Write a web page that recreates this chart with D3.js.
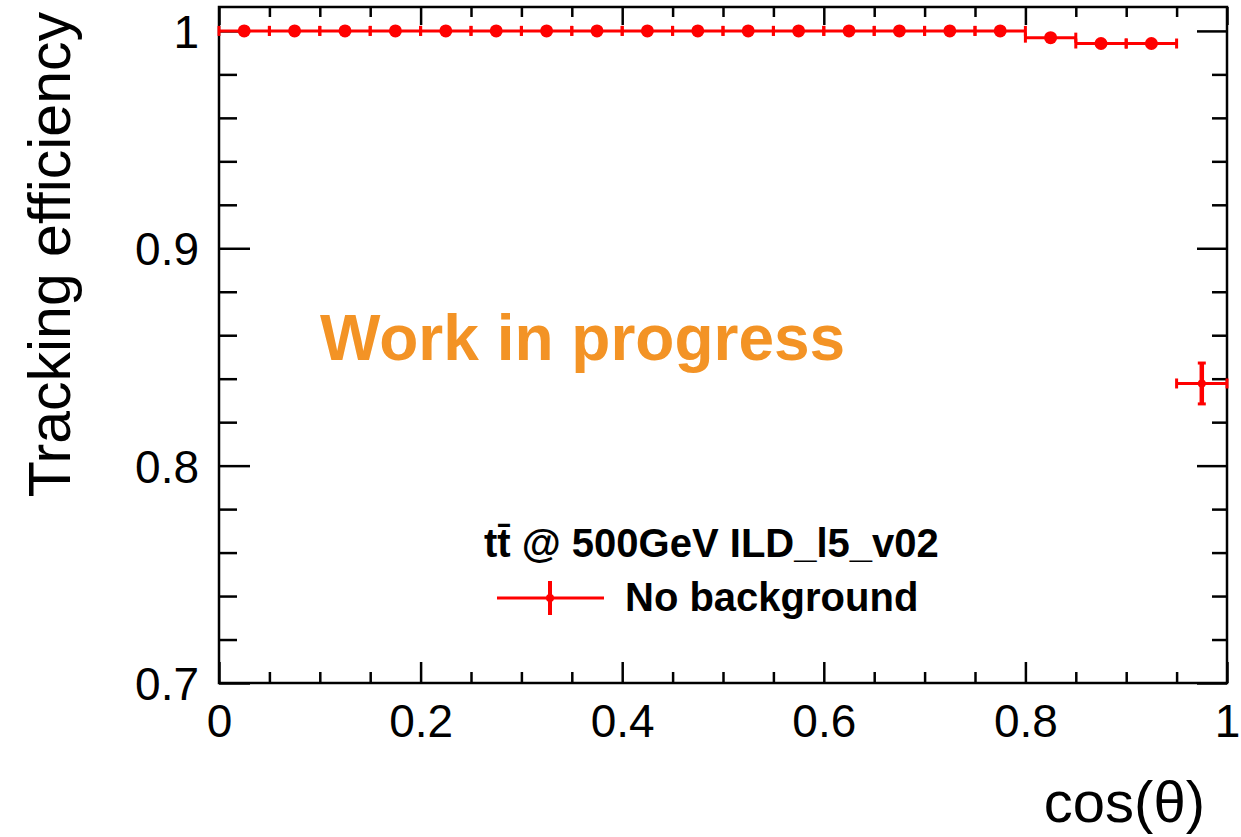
<!DOCTYPE html>
<html>
<head>
<meta charset="utf-8">
<script src="https://cdn.jsdelivr.net/npm/d3@7"></script>
<style>
  html, body { margin: 0; padding: 0; background: #fff; }
  svg { display: block; font-family: "Liberation Sans", Arial, Helvetica, sans-serif; }
  .tick text { fill: #000; }
</style>
</head>
<body>
<svg id="chart" width="1241" height="837"></svg>
<script>
// bin edges (low / high) in cos(theta)
const binLow  = [0.00, 0.05, 0.10, 0.15, 0.20, 0.25, 0.30, 0.35, 0.40, 0.45,
                 0.50, 0.55, 0.60, 0.65, 0.70, 0.75, 0.80, 0.85, 0.90, 0.95];
const binHigh = [0.05, 0.10, 0.15, 0.20, 0.25, 0.30, 0.35, 0.40, 0.45, 0.50,
                 0.55, 0.60, 0.65, 0.70, 0.75, 0.80, 0.85, 0.90, 0.95, 1.00];
// tracking efficiency, no background
const efficiency = [1.000, 1.000, 1.000, 1.000, 1.000, 1.000, 1.000, 1.000, 1.000, 1.000,
                    1.000, 1.000, 1.000, 1.000, 1.000, 1.000, 0.9969, 0.9942, 0.9942, 0.8378];
const effError   = [0.0002, 0.0002, 0.0002, 0.0002, 0.0002, 0.0002, 0.0002, 0.0002, 0.0002, 0.0002,
                    0.0002, 0.0002, 0.0002, 0.0002, 0.0002, 0.0002, 0.0004, 0.0012, 0.0012, 0.0094];

const xTicks = [0, 0.2, 0.4, 0.6, 0.8, 1];
const yTicks = [0.7, 0.8, 0.9, 1];
const xTitle = 'cos(\u03b8)';
const yTitle = 'Tracking efficiency';
const legendHeader = 'tt\u0304 @ 500GeV ILD_l5_v02';
const legendEntry = 'No background';
const stamp = 'Work in progress';

const svg = d3.select('#chart');
const frame = { left: 219, right: 1227, top: 7, bottom: 683 };
const red = '#ff0000';

const x = d3.scaleLinear().domain([0, 1]).range([frame.left, frame.right]);
const y = d3.scaleLinear().domain([0.7, 1.011]).range([frame.bottom, frame.top]);

const xMinor = d3.range(0, 1.0001, 0.05).filter(v => !xTicks.some(t => Math.abs(t - v) < 1e-6));
const yMinor = d3.range(0.7, 1.0101, 0.02).filter(v => !yTicks.some(t => Math.abs(t - v) < 1e-6));

// axes: ticks pointing inwards, mirrored on top/right
function drawAxis(axis, transform, cls) {
  const g = svg.append('g').attr('class', cls).attr('transform', transform).call(axis);
  g.select('.domain').remove();
  g.selectAll('.tick line').attr('stroke', '#000').attr('stroke-width', 2.5);
  return g;
}

const xb = drawAxis(d3.axisBottom(x).tickValues(xTicks).tickSize(-21).tickPadding(0)
  .tickFormat(d => d3.format('~g')(d)), `translate(0,${frame.bottom})`, 'x-axis');
xb.selectAll('.tick text')
  .attr('y', 54).attr('dy', null)
  .attr('font-size', 46);
drawAxis(d3.axisBottom(x).tickValues(xMinor).tickSize(-11).tickFormat(''),
  `translate(0,${frame.bottom})`, 'x-minor');
drawAxis(d3.axisTop(x).tickValues(xTicks).tickSize(-18).tickFormat(''),
  `translate(0,${frame.top})`, 'x-top');
drawAxis(d3.axisTop(x).tickValues(xMinor).tickSize(-10).tickFormat(''),
  `translate(0,${frame.top})`, 'x-top-minor');

const yl = drawAxis(d3.axisLeft(y).tickValues(yTicks).tickSize(-31).tickPadding(0)
  .tickFormat(d => d3.format('~g')(d)), `translate(${frame.left},0)`, 'y-axis');
yl.selectAll('.tick text')
  .attr('x', -20).attr('dy', '0.36em')
  .attr('font-size', 46);
drawAxis(d3.axisLeft(y).tickValues(yMinor).tickSize(-18).tickFormat(''),
  `translate(${frame.left},0)`, 'y-minor');
drawAxis(d3.axisRight(y).tickValues(yTicks).tickSize(-30).tickFormat(''),
  `translate(${frame.right},0)`, 'y-right');
drawAxis(d3.axisRight(y).tickValues(yMinor).tickSize(-15).tickFormat(''),
  `translate(${frame.right},0)`, 'y-right-minor');

// frame
svg.append('rect')
  .attr('x', frame.left).attr('y', frame.top)
  .attr('width', frame.right - frame.left).attr('height', frame.bottom - frame.top)
  .attr('fill', 'none').attr('stroke', '#000').attr('stroke-width', 2.5);

// axis titles
svg.append('text')
  .attr('x', 1205).attr('y', 822)
  .attr('text-anchor', 'end')
  .attr('font-size', 58)
  .text(xTitle);
svg.append('text')
  .attr('transform', 'translate(70,12) rotate(-90)')
  .attr('text-anchor', 'end')
  .attr('font-size', 59)
  .text(yTitle);

// data points with error bars
const bins = binLow.map((lo, i) => ({
  lo: lo, hi: binHigh[i], c: (lo + binHigh[i]) / 2, v: efficiency[i], e: effError[i]
}));
const pts = svg.append('g').attr('class', 'points').attr('stroke', red).attr('fill', red);
const cap = 4;
bins.forEach(d => {
  const g = pts.append('g');
  // horizontal bar (bin width) with end caps
  g.append('line')
    .attr('x1', x(d.lo)).attr('x2', x(d.hi))
    .attr('y1', y(d.v)).attr('y2', y(d.v))
    .attr('stroke-width', 3);
  [d.lo, d.hi].forEach(xe => {
    g.append('line')
      .attr('x1', x(xe)).attr('x2', x(xe))
      .attr('y1', y(d.v) - cap - 1).attr('y2', y(d.v) + cap + 1)
      .attr('stroke-width', 3);
  });
  // vertical error bar with caps
  g.append('line')
    .attr('x1', x(d.c)).attr('x2', x(d.c))
    .attr('y1', y(d.v + d.e)).attr('y2', y(d.v - d.e))
    .attr('stroke-width', 4.5);
  [d.v + d.e, d.v - d.e].forEach(ye => {
    g.append('line')
      .attr('x1', x(d.c) - cap).attr('x2', x(d.c) + cap)
      .attr('y1', y(ye)).attr('y2', y(ye))
      .attr('stroke-width', 3);
  });
  g.append('circle')
    .attr('cx', x(d.c)).attr('cy', y(d.v))
    .attr('r', d.e > 0.005 ? 4 : 6.5)
    .attr('stroke', 'none');
});

// "Work in progress"
svg.append('text')
  .attr('x', 320).attr('y', 360)
  .attr('font-size', 64)
  .attr('font-weight', 'bold')
  .attr('fill', '#f39325')
  .text(stamp);

// legend
const leg = svg.append('g').attr('class', 'legend');
leg.append('text')
  .attr('x', 484).attr('y', 557)
  .attr('font-size', 40)
  .attr('font-weight', 'bold')
  .text(legendHeader);
leg.append('line')
  .attr('x1', 497).attr('x2', 604).attr('y1', 598).attr('y2', 598)
  .attr('stroke', red).attr('stroke-width', 3);
leg.append('line')
  .attr('x1', 550).attr('x2', 550).attr('y1', 581).attr('y2', 615)
  .attr('stroke', red).attr('stroke-width', 4);
leg.append('circle')
  .attr('cx', 550).attr('cy', 598).attr('r', 4).attr('fill', red);
leg.append('text')
  .attr('x', 625).attr('y', 611)
  .attr('font-size', 40)
  .attr('font-weight', 'bold')
  .text(legendEntry);
</script>
</body>
</html>
